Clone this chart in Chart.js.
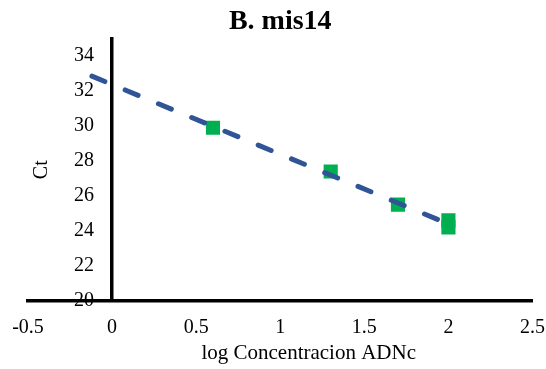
<!DOCTYPE html>
<html>
<head>
<meta charset="utf-8">
<script src="https://cdn.jsdelivr.net/npm/chart.js@4/dist/chart.umd.min.js"></script>
<style>
  body { margin: 0; background: #fff; }
</style>
</head>
<body>
<canvas id="ct-chart" width="546" height="369"></canvas>
<script>
// values
const logConc = [0.6, 1.3, 1.7, 2, 2]
const ctValues = [29.9, 27.4, 25.5, 24.6, 24.2]
const trendX = [-0.12, 2]
const trendY = [32.85, 24.4]
const xTickValues = [-0.5, 0, 0.5, 1, 1.5, 2, 2.5]
const yTickValues = [20, 22, 24, 26, 28, 30, 32, 34]

const serif = "'Liberation Serif', 'DejaVu Serif', serif"

const points = logConc.map((x, i) => ({ x: x, y: ctValues[i] }))
const trend = trendX.map((x, i) => ({ x: x, y: trendY[i] }))

const hidden = {
    grid: { display: false, drawTicks: false },
    border: { display: false },
    ticks: { display: false },
}

const ctx = document.getElementById("ct-chart").getContext("2d")

new Chart(ctx, {
    type: 'scatter',
    data: {
        datasets: [
            {
                // trendline first so it sits on top of the squares
                data: trend,
                showLine: true,
                borderColor: '#2F5597',
                borderWidth: 5,
                borderDash: [14, 22],
                borderCapStyle: 'round',
                pointRadius: 0,
                pointHoverRadius: 0,
            },
            {
                data: points,
                pointStyle: 'rect',
                pointRadius: 10,
                pointHoverRadius: 10,
                backgroundColor: '#00B050',
                borderWidth: 0,
            }
        ]
    },
    options: {
        responsive: false,
        animation: false,
        devicePixelRatio: 1,
        layout: {
            padding: { left: 28, right: 13, top: 0, bottom: 3 }
        },
        plugins: {
            legend: { display: false },
            tooltip: { enabled: false },
            title: {
                display: true,
                text: 'B. mis14',
                fullSize: false,
                color: '#000',
                font: { family: serif, size: 28, weight: 'bold' },
                padding: { top: 5, bottom: 0 },
            }
        },
        scales: {
            x: {
                type: 'linear',
                position: 'bottom',
                min: -0.5,
                max: 2.5,
                afterBuildTicks: (scale) => {
                    scale.ticks = xTickValues.map(v => ({ value: v }))
                },
                // hidden tick marks only used as spacing under the axis
                grid: { display: false, drawTicks: true, tickLength: 14 },
                border: { display: true, color: '#000', width: 3.5 },
                ticks: {
                    color: '#000',
                    padding: 1,
                    font: { family: serif, size: 20 },
                    callback: (v) => String(v),
                },
            },
            // the x title sits right of centre, so it shares a stack with an empty box
            xPad: {
                type: 'linear',
                axis: 'x',
                position: 'bottom',
                weight: 1,
                stack: 'xt',
                stackWeight: 57,
                ...hidden,
            },
            xTitle: {
                type: 'linear',
                axis: 'x',
                position: 'bottom',
                weight: 1,
                stack: 'xt',
                stackWeight: 448,
                ...hidden,
                title: {
                    display: true,
                    text: 'log Concentracion ADNc',
                    color: '#000',
                    font: { family: serif, size: 21 },
                    padding: { top: 0, bottom: 0 },
                }
            },
            y: {
                type: 'linear',
                position: { x: 0 },
                min: 20,
                max: 35,
                afterFit: (scale) => { scale.width = 0 },
                grid: { display: false, drawTicks: false },
                border: { display: true, color: '#000', width: 3.5 },
                ticks: { display: false },
            },
            // tick labels and "Ct" title, drawn inside the plot left of the y line
            yLabels: {
                type: 'linear',
                axis: 'y',
                position: 'left',
                min: 20,
                max: 35,
                afterBuildTicks: (scale) => {
                    scale.ticks = yTickValues.map(v => ({ value: v }))
                },
                afterFit: (scale) => {
                    scale.width = 0
                    scale.paddingTop = 0
                    scale.paddingBottom = 0
                },
                grid: { display: false, drawTicks: false },
                border: { display: false },
                ticks: {
                    color: '#000',
                    mirror: true,
                    crossAlign: 'far',
                    padding: 46,
                    font: { family: serif, size: 20 },
                    callback: (v) => String(v),
                },
                title: {
                    display: true,
                    text: 'Ct',
                    color: '#000',
                    font: { family: serif, size: 20 },
                    padding: { top: 2, bottom: 0 },
                }
            }
        }
    }
})
</script>
</body>
</html>
